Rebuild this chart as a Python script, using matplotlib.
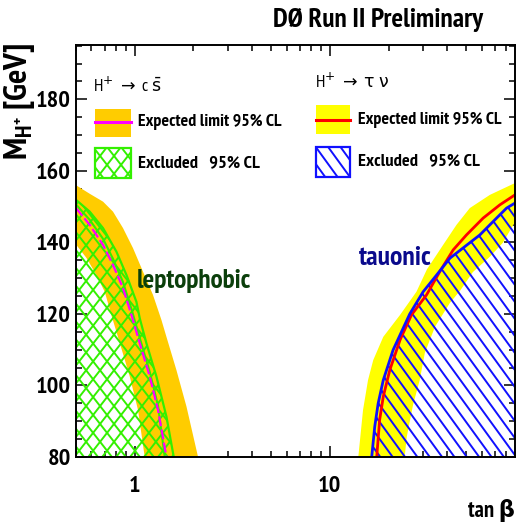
import numpy as np
import matplotlib
matplotlib.use("Agg")
import matplotlib.pyplot as plt
from matplotlib import font_manager
from matplotlib.collections import LineCollection
from matplotlib.patches import Polygon
from matplotlib.ticker import FixedLocator, LogLocator, MultipleLocator, NullFormatter

# ---------------- data: tan(beta) vs charged Higgs mass limits ----------------
# H+ -> c sbar (leptophobic)
cs_band_hi_tanb = [0.5, 0.588, 0.688, 0.774, 0.871, 0.980, 1.103, 1.241, 1.371, 1.454, 1.636, 1.842, 2.112]
cs_band_hi_mass = [156.0, 153.6, 151.4, 148.6, 144.0, 138.4, 131.8, 125.3, 118.3, 113.6, 104.3, 94.1, 80.0]
cs_band_lo_tanb = [0.502, 0.565, 0.636, 0.702, 0.759, 0.838, 0.943, 1.04, 1.125]
cs_band_lo_mass = [139.3, 135.7, 130.9, 126.2, 119.7, 111.9, 102.5, 93.1, 80.0]
cs_exp_tanb = [0.5, 0.588, 0.688, 0.774, 0.871, 0.962, 1.061, 1.194, 1.317, 1.454]
cs_exp_mass = [149.6, 144.9, 139.3, 133.7, 127.2, 119.7, 111.8, 102.5, 93.1, 80.0]
cs_obs_tanb = [0.5, 0.588, 0.688, 0.806, 0.907, 1.02, 1.061, 1.148, 1.292, 1.454, 1.585]
cs_obs_mass = [151.9, 148.6, 144.0, 137.4, 130.9, 123.4, 118.8, 111.8, 102.5, 91.3, 80.0]
cs_obs_edge_tanb = [0.5, 0.588, 0.688, 0.774, 0.871, 0.962, 1.061, 1.194, 1.317, 1.425]
cs_obs_edge_mass = [150.6, 146.3, 141.0, 135.4, 128.9, 121.4, 113.3, 103.8, 94.3, 80.0]

# H+ -> tau nu (tauonic)
tn_band_hi_tanb = [14.0, 14.8, 15.7, 16.7, 18.8, 22.9, 27.8, 31.5, 38.1, 44.6, 52.2, 66.2, 89.0]
tn_band_hi_mass = [80.0, 93.1, 101.5, 107.1, 113.6, 119.7, 126.2, 132.5, 139.3, 144.9, 149.6, 153.3, 156.6]
tn_band_lo_tanb = [24.2, 24.8, 26.7, 28.9, 30.7, 34.6, 41.3, 46.4, 54.1, 66.2, 77.1, 89.0]
tn_band_lo_mass = [80.0, 85.6, 94.5, 101.5, 109.1, 116.4, 123.1, 126.4, 131.7, 136.0, 139.9, 145.7]
tn_exp_tanb = [17.4, 18.0, 18.8, 20.3, 22.9, 26.2, 31.3, 36.6, 42.9, 50.2, 61.1, 74.4, 89.0]
tn_exp_mass = [80.0, 90.3, 96.9, 104.3, 112.7, 119.7, 125.3, 131.8, 137.9, 142.1, 146.8, 150.5, 153.3]
tn_obs_tanb = [16.4, 17.0, 17.7, 18.8, 21.1, 25.7, 30.1, 35.3, 41.3, 58.8, 71.6, 80.6, 89.0]
tn_obs_mass = [80.0, 88.5, 95.0, 101.5, 109.9, 120.0, 126.2, 130.9, 135.6, 142.1, 146.8, 149.6, 151.0]

x_ticks = [1, 10]
x_tick_labels = ["1", "10"]
y_ticks = [80, 100, 120, 140, 160, 180]

# ---------------- fonts: a narrow bold sans ----------------
def has_bold(name):
    for f in font_manager.fontManager.ttflist:
        if f.name == name and f.style == "normal":
            w = f.weight if isinstance(f.weight, int) else font_manager.weight_dict.get(f.weight, 400)
            if w >= 600:
                return True
    return False


PREFERRED = ["Liberation Sans Narrow", "Arial Narrow", "Nimbus Sans Narrow", "Archivo Narrow",
             "PT Sans Narrow", "Roboto Condensed", "Fira Sans Condensed", "IBM Plex Sans Condensed",
             "Encode Sans Condensed", "Asap Condensed", "Open Sans Condensed", "Barlow Semi Condensed",
             "Sofia Sans Semi Condensed", "Saira SemiCondensed", "Pragati Narrow", "Liberation Sans"]
FAM = next((n for n in PREFERRED if has_bold(n)), "DejaVu Sans")

plt.rcParams["font.family"] = [FAM, "DejaVu Sans"]
plt.rcParams["mathtext.fontset"] = "custom"
plt.rcParams["mathtext.rm"] = FAM
plt.rcParams["mathtext.it"] = FAM
plt.rcParams["mathtext.bf"] = FAM + ":bold"
plt.rcParams["mathtext.sf"] = FAM

ORANGE = "#ffcc00"
YELLOW = "#ffff00"
MAGENTA = "#ff00ff"
GREEN = "#33f000"
RED = "#ff0000"
BLUE = "#1010ff"

W_PX, H_PX = 518, 523
AX_L, AX_R, AX_T, AX_B = 76, 515, 45, 457

fig = plt.figure(figsize=(W_PX / 100, H_PX / 100), dpi=100)
ax = fig.add_axes([AX_L / W_PX, 1 - AX_B / H_PX, (AX_R - AX_L) / W_PX, (AX_B - AX_T) / H_PX])
ax.set_xscale("log")
ax.set_xlim(0.5, 89)
ax.set_ylim(80, 195.2)
renderer = fig.canvas.get_renderer()

AXW, AXH = AX_R - AX_L, AX_B - AX_T


def axx(px):
    return (px - AX_L) / AXW


def axy(py):
    return (AX_B - py) / AXH


def fit(t, size_px, along="width"):
    """Scale a text's font size so its extent matches size_px."""
    bb = t.get_window_extent(renderer)
    cur = bb.width if along == "width" else bb.height
    t.set_fontsize(t.get_fontsize() * size_px / cur)
    return t


def hatch(patch, angles, spacing, color, lw):
    """Parallel line hatching (pixel spacing / angle) clipped to a patch."""
    diag = np.hypot(AXW, AXH) * 1.2
    segs = []
    for ang in angles:
        t = np.deg2rad(ang)
        d = np.array([np.cos(t), np.sin(t)])
        n = np.array([-np.sin(t), np.cos(t)])
        c0 = np.array([AXW / 2, AXH / 2])
        for k in np.arange(-diag, diag, spacing):
            c = c0 + n * k
            p0, p1 = c - d * diag, c + d * diag
            segs.append([(p0[0] / AXW, p0[1] / AXH), (p1[0] / AXW, p1[1] / AXH)])
    lc = LineCollection(segs, colors=color, linewidths=lw, transform=ax.transAxes,
                        zorder=patch.get_zorder() + 0.1)
    lc.set_clip_path(patch)
    ax.add_collection(lc, autolim=False)


# ---- leptophobic (H+ -> c sbar) ----
cs_band_pts = list(zip(cs_band_hi_tanb, cs_band_hi_mass)) + list(zip(cs_band_lo_tanb, cs_band_lo_mass))[::-1]
ax.add_patch(Polygon(cs_band_pts, closed=True, facecolor=ORANGE, edgecolor="none", zorder=2))

cs_excl_pts = list(zip(cs_obs_tanb, cs_obs_mass)) + [(0.5, 80.0)]
cs_excl = Polygon(cs_excl_pts, closed=True, facecolor="none", edgecolor="none", zorder=3)
ax.add_patch(cs_excl)
hatch(cs_excl, [52, -52], 11.0, GREEN, 1.4)
ax.plot(cs_obs_edge_tanb, cs_obs_edge_mass, color=GREEN, lw=1.5, zorder=4)
ax.plot(cs_obs_tanb, cs_obs_mass, color=GREEN, lw=1.6, zorder=4)
ax.plot(cs_exp_tanb, cs_exp_mass, color=MAGENTA, lw=1.6, dashes=(4.5, 1.5), zorder=5)

# ---- tauonic (H+ -> tau nu) ----
tn_band_pts = list(zip(tn_band_hi_tanb, tn_band_hi_mass)) + list(zip(tn_band_lo_tanb, tn_band_lo_mass))[::-1]
ax.add_patch(Polygon(tn_band_pts, closed=True, facecolor=YELLOW, edgecolor="none", zorder=2))

tn_excl_pts = list(zip(tn_obs_tanb, tn_obs_mass)) + [(89.0, 80.0)]
tn_excl = Polygon(tn_excl_pts, closed=True, facecolor="none", edgecolor="none", zorder=3)
ax.add_patch(tn_excl)
hatch(tn_excl, [-54], 10.0, BLUE, 1.4)
ax.plot(tn_exp_tanb, tn_exp_mass, color=RED, lw=2.0, zorder=4)
ax.plot(tn_obs_tanb, tn_obs_mass, color=BLUE, lw=2.0, zorder=5)

# ---- region labels ----
fit(ax.text(axx(137), axy(288), "leptophobic", transform=ax.transAxes, fontsize=17,
            fontweight="bold", color="#0b3f0b", ha="left", va="baseline", zorder=6), 115)
fit(ax.text(axx(359), axy(265), "tauonic", transform=ax.transAxes, fontsize=17,
            fontweight="bold", color="#0a0a8c", ha="left", va="baseline", zorder=6), 72)


# ---- legends ----
def rect(x0, y0, x1, y1, **kw):
    pts = [(axx(x0), axy(y0)), (axx(x1), axy(y0)), (axx(x1), axy(y1)), (axx(x0), axy(y1))]
    p = Polygon(pts, closed=True, transform=ax.transAxes, **kw)
    ax.add_patch(p)
    return p


def legend_text(px, py, s, width=None, **kw):
    t = ax.text(axx(px), axy(py), s, transform=ax.transAxes, ha="left", va="center", zorder=8, **kw)
    return fit(t, width) if width else t


# decay-channel headers: arrow and Greek letters taken from the DejaVu math set
HEADER = dict(fontsize=12.5, math_fontfamily="dejavusans")
legend_text(93, 86, r"H$^{+}$ $\rightarrow$ c $\bar{\mathrm{s}}$", **HEADER)
rect(95, 108.5, 131, 136.5, facecolor=ORANGE, edgecolor="none", zorder=7)
ax.plot([axx(95), axx(131)], [axy(122), axy(122)], transform=ax.transAxes, color=MAGENTA, lw=2.2, zorder=8)
legend_text(138, 122, "Expected limit 95% CL", 142, fontsize=12, fontweight="bold")
g = rect(95, 148, 131, 178, facecolor="white", edgecolor="none", zorder=7)
hatch(g, [52, -52], 11.0, GREEN, 1.4)
rect(95, 148, 131, 178, facecolor="none", edgecolor=GREEN, lw=1.6, zorder=8)
legend_text(138, 163, "Excluded   95% CL", 120, fontsize=12, fontweight="bold")

legend_text(315, 82, r"H$^{+}$ $\rightarrow$ $\mathrm{\tau}$ $\mathrm{\nu}$", **HEADER)
rect(316, 105, 350, 134, facecolor=YELLOW, edgecolor="none", zorder=7)
ax.plot([axx(316), axx(350)], [axy(120), axy(120)], transform=ax.transAxes, color=RED, lw=2.2, zorder=8)
legend_text(358, 120, "Expected limit 95% CL", 142, fontsize=12, fontweight="bold")
b = rect(316, 146.5, 350, 176.5, facecolor="white", edgecolor="none", zorder=7)
hatch(b, [-54], 10.0, BLUE, 1.4)
rect(316, 146.5, 350, 176.5, facecolor="none", edgecolor=BLUE, lw=1.6, zorder=8)
legend_text(358, 161, "Excluded   95% CL", 120, fontsize=12, fontweight="bold")

# ---- axes ----
probe = fig.text(0, 0, "180", fontsize=18, fontweight="bold")
fit(probe, 35)
tick_size = probe.get_fontsize()
probe.remove()

ax.xaxis.set_major_locator(FixedLocator(x_ticks))
ax.set_xticklabels(x_tick_labels)
ax.xaxis.set_minor_locator(LogLocator(base=10, subs=np.arange(2, 10)))
ax.xaxis.set_minor_formatter(NullFormatter())
ax.set_yticks(y_ticks)
ax.yaxis.set_minor_locator(MultipleLocator(5))
ax.tick_params(which="both", direction="in", top=True, right=True, width=1.1, color="black")
ax.tick_params(which="major", length=8)
ax.tick_params(which="minor", length=4.2)
ax.tick_params(axis="x", which="major", pad=14)
ax.tick_params(axis="y", which="major", pad=3.5)
for lab in ax.get_xticklabels() + ax.get_yticklabels():
    lab.set_fontsize(tick_size)
    lab.set_fontweight("bold")
for sp in ax.spines.values():
    sp.set_linewidth(1.4)
    sp.set_zorder(10)

fit(fig.text(273 / W_PX, 1 - 27 / H_PX, "DØ Run II Preliminary", fontsize=18, fontweight="bold",
             ha="left", va="baseline"), 210)
fit(fig.text(515 / W_PX, 1 - 517 / H_PX, "tan β", fontsize=18, fontweight="bold",
             ha="right", va="baseline"), 47)
fit(fig.text(19.5 / W_PX, 1 - 43 / H_PX, r"$\mathbf{M}_{\mathbf{H}^{\mathbf{+}}}$ [GeV]", fontsize=18,
             fontweight="bold", rotation=90, ha="center", va="top"), 118, along="height")

fig.savefig("out.png", dpi=100)
